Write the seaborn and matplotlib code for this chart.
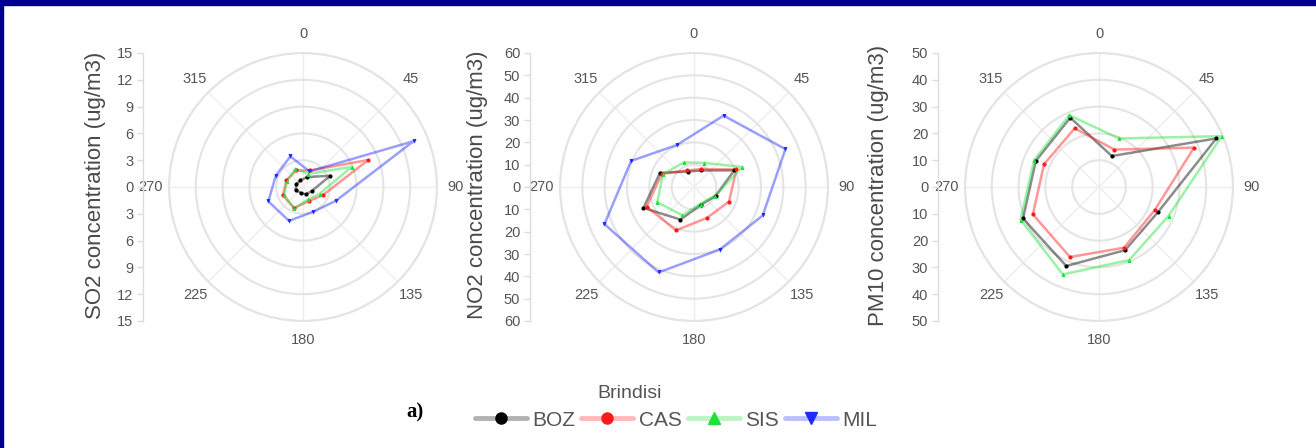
import numpy as np
import matplotlib
matplotlib.use("Agg")
import matplotlib.pyplot as plt
from matplotlib.patches import Rectangle
from matplotlib.lines import Line2D
import seaborn as sns

# Wind-sector centres (degrees, clockwise from north) and compass labels
directions = [22.5, 67.5, 112.5, 157.5, 202.5, 247.5, 292.5, 337.5]
angle_ticks = [0, 45, 90, 135, 180, 225, 270, 315]

sites = ["BOZ", "CAS", "SIS", "MIL"]
site_colors = {"BOZ": "#000000", "CAS": "#ff1a1a", "SIS": "#22e03a", "MIL": "#1f2bff"}
site_markers = {"BOZ": "o", "CAS": "o", "SIS": "^", "MIL": "v"}

# Mean concentration per wind sector (ug/m3)
so2_boz = [1.2, 3.3, 1.1, 0.9, 0.7, 0.9, 0.8, 0.8]
so2_cas = [2.0, 7.9, 2.4, 1.7, 2.55, 2.45, 2.0, 2.0]
so2_sis = [1.6, 5.9, 2.0, 1.5, 2.6, 2.3, 1.9, 2.2]
so2_mil = [1.9, 13.4, 4.0, 3.0, 4.1, 4.2, 3.3, 3.7]

no2_boz = [8.0, 19.5, 10.5, 8.5, 15.8, 24.5, 16.5, 7.5]
no2_cas = [8.7, 20.5, 17.0, 15.0, 21.0, 23.0, 15.5, 8.0]
no2_sis = [11.7, 23.4, 10.2, 8.0, 13.7, 17.8, 15.0, 11.9]
no2_mil = [34.6, 44.3, 33.3, 30.3, 41.4, 43.4, 30.5, 20.3]

pm10_boz = [12.5, 47.4, 24.0, 25.5, 31.9, 30.7, 25.5, 28.0]
pm10_cas = [15.1, 38.4, 22.5, 24.5, 28.3, 26.7, 22.2, 23.7]
pm10_sis = [19.6, 49.6, 28.1, 29.5, 35.3, 31.7, 26.2, 29.0]

panels = [
    ("SO2 concentration (ug/m3)", {"BOZ": so2_boz, "CAS": so2_cas, "SIS": so2_sis, "MIL": so2_mil}, 15, 3),
    ("NO2 concentration (ug/m3)", {"BOZ": no2_boz, "CAS": no2_cas, "SIS": no2_sis, "MIL": no2_mil}, 60, 10),
    ("PM10 concentration (ug/m3)", {"BOZ": pm10_boz, "CAS": pm10_cas, "SIS": pm10_sis}, 50, 10),
]

sns.set_theme(style="white")
plt.rcParams["font.family"] = ["Liberation Sans", "DejaVu Sans"]

W, H = 1316, 448
fig = plt.figure(figsize=(W / 100, H / 100), dpi=100)
fig.patch.set_facecolor("white")

# pixel layout: polar centre x, left scale x, label x
centres = [303, 694, 1099]
scale_x = [143, 530, 938]
label_x = [96, 477, 878]
cy, R = 187, 134

tick_col = "#555555"
grid_col = "#e4e4e4"

for (ylabel, series, rmax, step), cx, sx, lx in zip(panels, centres, scale_x, label_x):
    ax = fig.add_axes([(cx - R) / W, (H - cy - R) / H, 2 * R / W, 2 * R / H], projection="polar")
    ax.set_theta_zero_location("N")
    ax.set_theta_direction(-1)
    ax.set_facecolor("none")

    for site in sites:
        if site not in series:
            continue
        vals = list(series[site])
        theta = list(np.deg2rad(directions))
        sns.lineplot(x=theta + [theta[0] + 2 * np.pi], y=vals + [vals[0]], ax=ax,
                     color=site_colors[site], alpha=0.45, lw=1.8, sort=False,
                     estimator=None, legend=False)
        sns.scatterplot(x=theta, y=vals, ax=ax, color=site_colors[site],
                        marker=site_markers[site], s=9, linewidth=0, legend=False, zorder=4)

    ax.set_ylim(0, rmax)
    ax.set_yticks(np.arange(step, rmax + step / 2, step))
    ax.set_yticklabels([])
    ax.set_xticks(np.deg2rad(angle_ticks))
    ax.set_xticklabels([])
    ax.set_xlabel("")
    ax.set_ylabel("")
    ax.yaxis.grid(True, color=grid_col, lw=1.5)
    ax.xaxis.grid(True, color="#ededed", lw=1.0)
    ax.spines["polar"].set_color(grid_col)
    ax.spines["polar"].set_linewidth(1.5)
    ax.tick_params(length=0)

    for a in angle_ticks:
        ax.text(np.deg2rad(a), rmax * 1.14, str(a), ha="center", va="center",
                fontsize=10.5, color=tick_col, clip_on=False)

    # symmetric concentration scale on the left
    lax = fig.add_axes([sx / W, (H - cy - R) / H, 0.0001, 2 * R / H])
    lax.set_facecolor("none")
    lax.set_ylim(-rmax, rmax)
    ticks = np.arange(-rmax, rmax + step / 2, step)
    lax.set_yticks(ticks)
    lax.set_yticklabels([str(abs(int(t))) for t in ticks])
    lax.set_xticks([])
    for s in ["top", "right", "bottom"]:
        lax.spines[s].set_visible(False)
    lax.spines["left"].set_color("#dcdcdc")
    lax.spines["left"].set_linewidth(1.0)
    lax.tick_params(axis="y", left=True, length=4, width=1.0, color="#dcdcdc",
                    labelcolor=tick_col, labelsize=10.5, pad=3)

    fig.text(lx / W, 1 - 185 / H, ylabel, rotation=90, ha="center", va="center",
             fontsize=16, color="#4a4a4a")

# legend
handles = []
for site in sites:
    c = site_colors[site]
    line = Line2D([], [], color=c, alpha=0.3, lw=3.5)
    mark = Line2D([], [], color=c, marker=site_markers[site], markersize=8, lw=0)
    handles.append((line, mark))
fig.legend(handles, sites, loc="center", bbox_to_anchor=(676 / W, 1 - 420 / H), ncol=4,
           frameon=False, fontsize=15, handlelength=2.5, handletextpad=0.25,
           columnspacing=0.3, labelcolor="#555555")
fig.text(630 / W, 1 - 393 / H, "Brindisi", ha="center", va="center", fontsize=14, color="#555555")
fig.text(415 / W, 1 - 412 / H, "a)", ha="center", va="center", fontsize=15,
         fontweight="bold", family=["Liberation Serif", "DejaVu Serif"], color="black")

# frame strips
fig.patches.append(Rectangle((0, 1 - 5 / H), 1, 5 / H, transform=fig.transFigure,
                             color="#000090", zorder=10))
fig.patches.append(Rectangle((0, 0), 3 / W, 1, transform=fig.transFigure,
                             color="#000090", zorder=10))

fig.savefig("out.png", dpi=100, facecolor="white")
